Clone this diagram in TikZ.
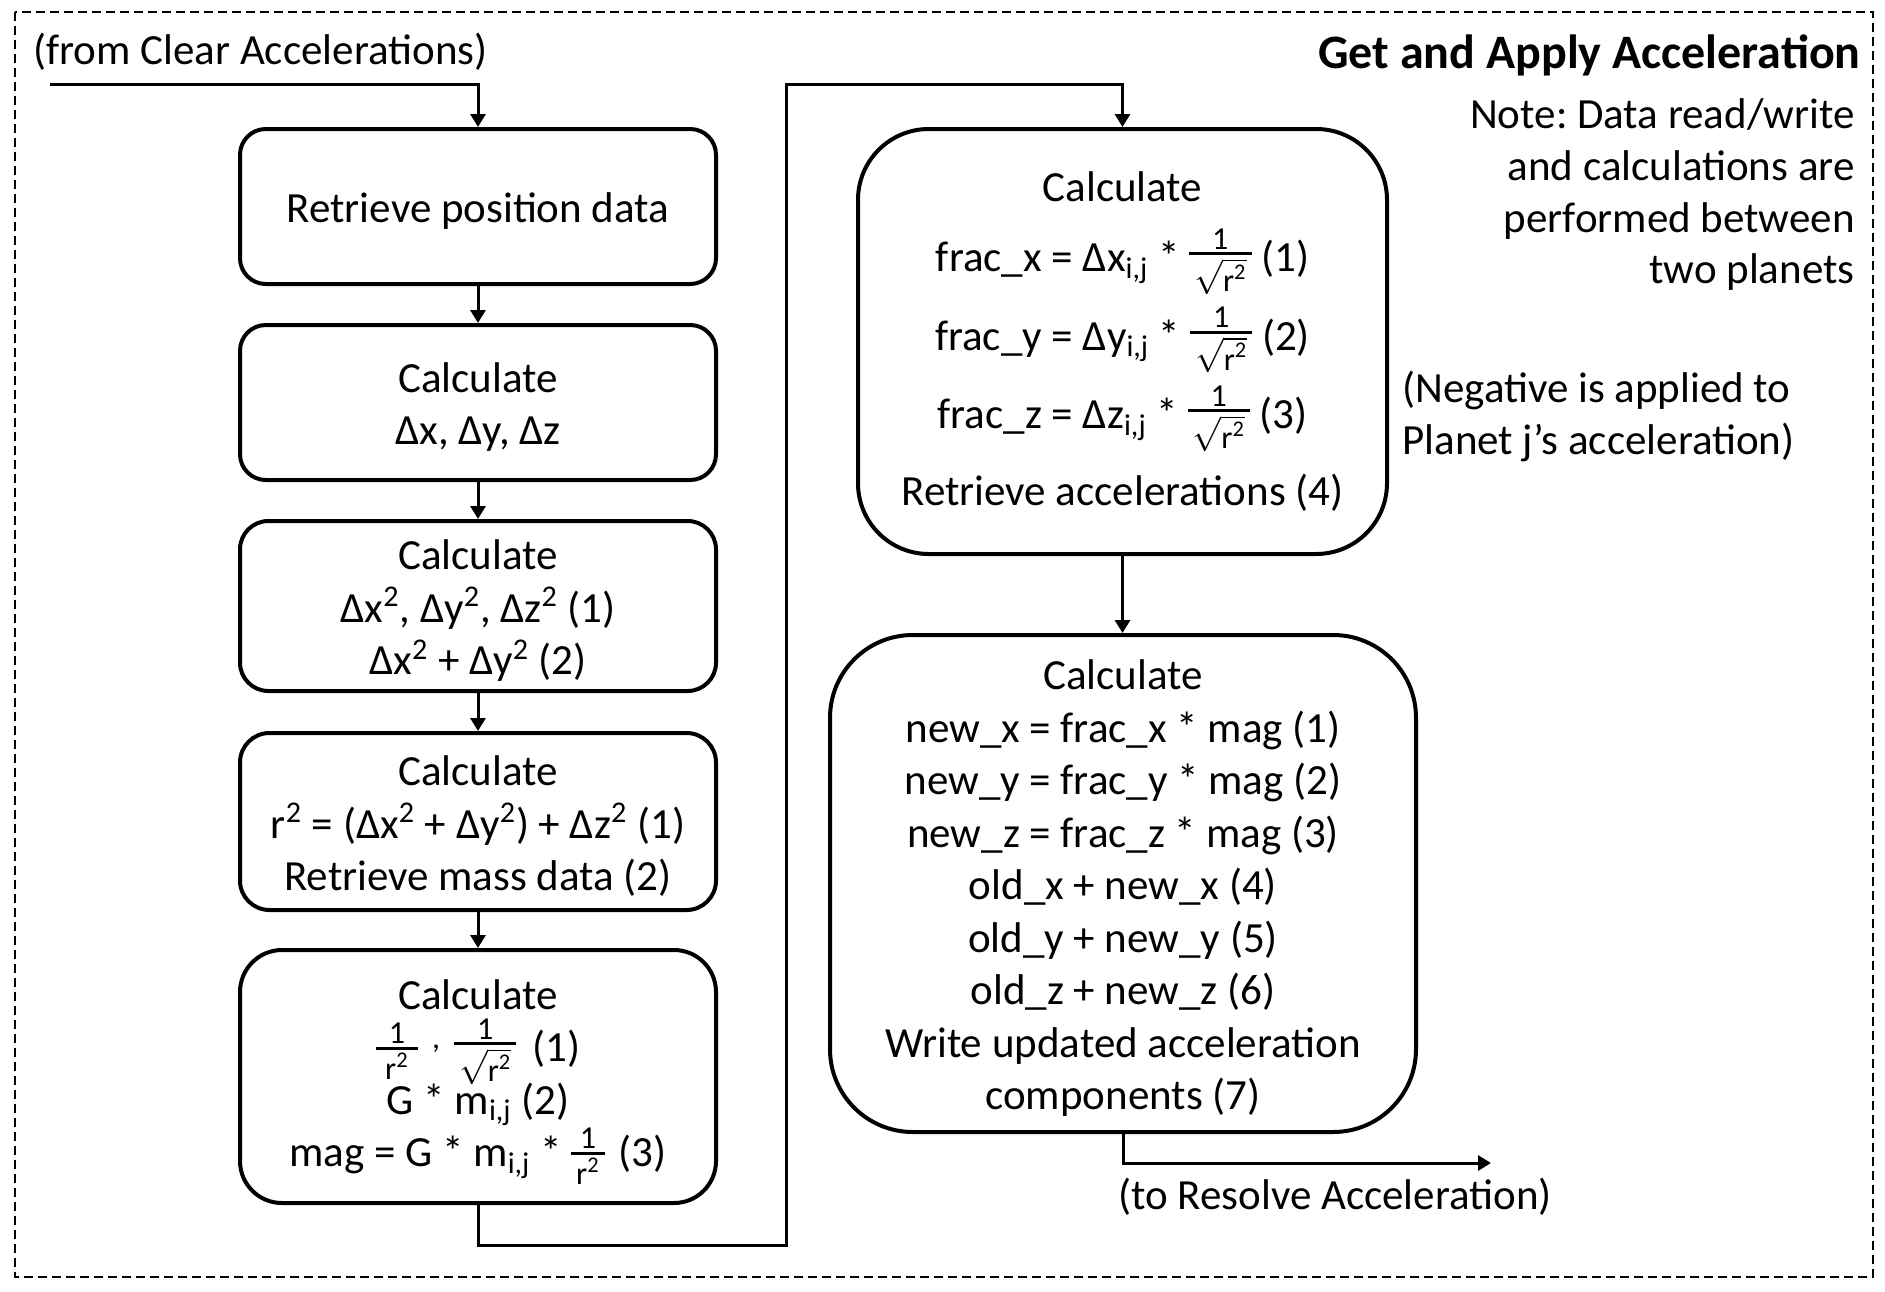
\documentclass[tikz,border=0pt]{standalone}
\usepackage{fontspec}
\setmainfont{Carlito}
\usetikzlibrary{arrows.meta}
\frenchspacing
\newcommand\myfrac[2]{\ensuremath{\vcenter{\offinterlineskip\fontsize{16}{16}\selectfont
  \setbox0\hbox{#1}\setbox2\hbox{#2}%
  \dimen0=\ifdim\wd0>\wd2 \wd0\else\wd2\fi \advance\dimen0 by 5pt
  \hbox to\dimen0{\hss\box0\hss}\kern1.5pt\hrule height1.5pt\kern1.5pt\hbox to\dimen0{\hss\box2\hss}}}}
\newcommand\rsq{r\textsuperscript{2}}
\newcommand\sqrsq{$\sqrt{\hbox{r\textsuperscript{2}}}$}
\newcommand\subij{\textsubscript{i,j}}
\newcommand\sqd{\textsuperscript{2}}
\newcommand\tstrut{\rule{0pt}{19.5pt}}
\begin{document}
\begin{tikzpicture}[x=0.5pt,y=-0.5pt,
  every node/.style={font=\fontsize{21.5}{26.25}\selectfont, inner sep=0pt},
  box/.style={draw, line width=2pt, align=center, minimum width=238pt,
    execute at begin node={\lineskip=0pt\lineskiplimit=-100pt}},
  arr/.style={line width=1.5pt, -{Triangle[length=6.5pt,width=7.5pt]}},
  lbl/.style={anchor=base west},
  rlbl/.style={anchor=base east}]
\useasboundingbox (0,0) rectangle (1885,1291);
\draw[line width=0.75pt, dash pattern=on 4.5pt off 2.5pt] (15,12) rectangle (1873,1277);

% left column
\node[box, minimum height=77.5pt, rounded corners=12.9pt] (b1) at (478,206.5) {\tstrut Retrieve position data};
\node[box, minimum height=77.5pt, rounded corners=12.9pt] (b2) at (478,402.5) {\tstrut Calculate\\Δx, Δy, Δz};
\node[box, minimum height=85pt, rounded corners=14.2pt] (b3) at (478,606) {\tstrut Calculate\\Δx\sqd, Δy\sqd, Δz\sqd{} (1)\\Δx\sqd{} + Δy\sqd{} (2)};
\node[box, minimum height=88.5pt, rounded corners=14.75pt] (b4) at (478,821.5) {\tstrut Calculate\\r\sqd{} = (Δx\sqd{} + Δy\sqd) + Δz\sqd{} (1)\\Retrieve mass data (2)};
\node[box, minimum height=126.5pt, rounded corners=21pt] (b5) at (478,1076.5) {\rule{0pt}{20.5pt}Calculate\\\myfrac{\hspace{4pt}1\hspace{4pt}}{\rsq}\hspace{7pt}\raisebox{0.3em}{\fontsize{16}{16}\selectfont,}\hspace{7pt}\myfrac{1}{\sqrsq}\hspace{8pt}(1)\\G * m\subij{} (2)\\mag = G * m\subij{} * \myfrac{1}{\rsq}\hspace{7pt}(3)};

% right column
\node[box, minimum width=264.5pt, minimum height=212.5pt, rounded corners=35.4pt] (b6) at (1122.5,341.5) {Calculate\\[9pt]frac\_x = Δx\subij{} * \myfrac{1}{\sqrsq} (1)\\[13pt]frac\_y = Δy\subij{} * \myfrac{1}{\sqrsq} (2)\\[13pt]frac\_z = Δz\subij{} * \myfrac{1}{\sqrsq} (3)\\[12pt]Retrieve accelerations (4)};
\node[box, minimum width=293pt, minimum height=248.5pt, rounded corners=41.4pt] (b7) at (1123,883.5) {\tstrut Calculate\\new\_x = frac\_x * mag (1)\\new\_y = frac\_y * mag (2)\\new\_z = frac\_z * mag (3)\\old\_x + new\_x (4)\\old\_y + new\_y (5)\\old\_z + new\_z (6)\\Write updated acceleration\\components (7)};

% labels
\node[lbl] (from) at (33,64) {(from Clear Accelerations)};
\node[rlbl, font=\fontsize{24}{29}\selectfont\bfseries] (title) at (1861,68) {Get and Apply Acceleration};
\node[rlbl] (note1) at (1855,128) {Note: Data read/write};
\node[rlbl] (note2) at (1855,180) {and calculations are};
\node[rlbl] (note3) at (1855,232) {performed between};
\node[rlbl] (note4) at (1855,283) {two planets};
\node[lbl] (neg1) at (1402,402) {(Negative is applied to};
\node[lbl] (neg2) at (1402,454) {Planet j’s acceleration)};
\node[lbl] (to) at (1118,1209) {(to Resolve Acceleration)};

% connectors
\coordinate (inA) at (50,84);
\coordinate (c1) at (478,1245);
\coordinate (c2) at (786,1245);
\coordinate (c3) at (786,84);
\coordinate (outA) at (1491,1163);
\draw[arr] (inA) -| (b1.north);
\draw[arr] (b1.south) -- (b2.north);
\draw[arr] (b2.south) -- (b3.north);
\draw[arr] (b3.south) -- (b4.north);
\draw[arr] (b4.south) -- (b5.north);
\draw[arr] (b5.south) -- (c1) -- (c2) -- (c3) -| (b6.north);
\draw[arr] (b6.south) -- (b6.south |- b7.north);
\draw[arr] (b7.south) |- (outA);
\end{tikzpicture}
\end{document}
